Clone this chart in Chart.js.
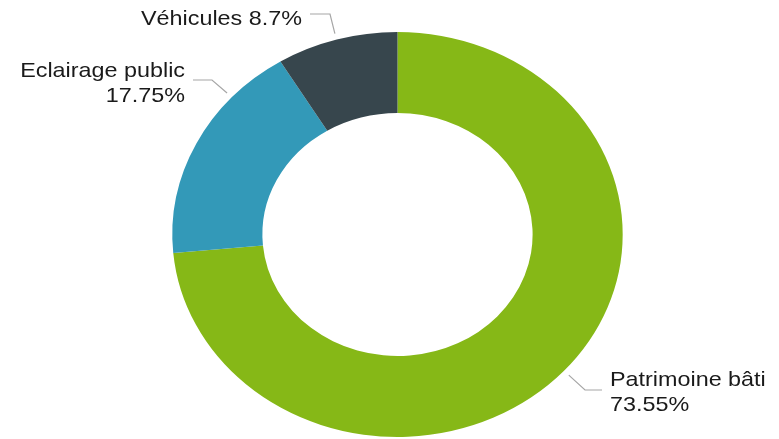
<!DOCTYPE html>
<html>
<head>
<meta charset="utf-8">
<script src="https://cdn.jsdelivr.net/npm/chart.js@4/dist/chart.umd.min.js"></script>
<style>
  html, body { margin: 0; padding: 0; background: #fff; }
  #chart { display: block; }
</style>
</head>
<body>
<canvas id="chart" width="779" height="439"></canvas>
<script>
// data
const labels = ['Patrimoine bâti', 'Eclairage public', 'Véhicules'];
const shares = [73.55, 17.75, 8.7];
const colors = ['#86b817', '#3399b8', '#37464d'];

// horizontal stretch of the original picture
const SX = 1.112;

// where each label sits (anchor = fraction along its slice)
const labelLayout = [
  { anchor: 0.5, elbow: [585, 390], end: 602, textX: 610, align: 'left', base: 386 },
  { anchor: 0.75, elbow: [212, 80], end: 193, textX: 185, align: 'right', base: 77 },
  { anchor: 0.5, elbow: [330, 14], end: 310, textX: 302, align: 'right', base: 25, oneLine: true }
];

const stretchPlugin = {
  id: 'stretch',
  beforeDatasetsDraw(chart) {
    const arc = chart.getDatasetMeta(0).data[0];
    const ctx = chart.ctx;
    ctx.save();
    ctx.translate(arc.x, arc.y);
    ctx.scale(SX, 1);
    ctx.translate(-arc.x, -arc.y);
  },
  afterDatasetsDraw(chart) {
    chart.ctx.restore();
  }
};

const labelPlugin = {
  id: 'outLabels',
  afterDraw(chart) {
    const ctx = chart.ctx;
    const arcs = chart.getDatasetMeta(0).data;
    arcs.forEach((arc, i) => {
      const lay = labelLayout[i];
      const a = arc.startAngle + (arc.endAngle - arc.startAngle) * lay.anchor;
      const r = arc.outerRadius * 1.03;
      const ax = arc.x + SX * r * Math.cos(a);
      const ay = arc.y + r * Math.sin(a);

      ctx.save();
      ctx.strokeStyle = '#a6a6a6';
      ctx.lineWidth = 1.2;
      ctx.beginPath();
      ctx.moveTo(ax, ay);
      ctx.lineTo(lay.elbow[0], lay.elbow[1]);
      ctx.lineTo(lay.end, lay.elbow[1]);
      ctx.stroke();

      const pct = String(shares[i]).replace(/^(\d+\.\d)$/, '$1') + '%';
      const lines = lay.oneLine ? [labels[i] + ' ' + pct] : [labels[i], pct];
      ctx.fillStyle = '#1a1a1a';
      ctx.font = '21px "Liberation Sans", Arial, sans-serif';
      ctx.textAlign = lay.align;
      ctx.textBaseline = 'alphabetic';
      ctx.translate(lay.textX, 0);
      ctx.scale(SX, 1);
      lines.forEach((t, k) => ctx.fillText(t, 0, lay.base + k * 25));
      ctx.restore();
    });
  }
};

new Chart(document.getElementById('chart'), {
  type: 'doughnut',
  data: {
    labels: labels,
    datasets: [{
      data: shares,
      backgroundColor: colors,
      borderWidth: 0,
      hoverOffset: 0
    }]
  },
  options: {
    responsive: false,
    animation: false,
    cutout: '60%',
    layout: { padding: { top: 32, bottom: 2, left: 195, right: 179 } },
    plugins: {
      legend: { display: false },
      tooltip: { enabled: false }
    }
  },
  plugins: [stretchPlugin, labelPlugin]
});
</script>
</body>
</html>
